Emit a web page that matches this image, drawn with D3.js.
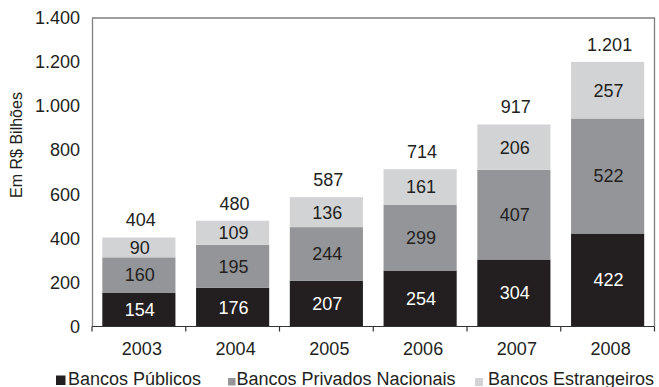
<!DOCTYPE html>
<html>
<head>
<meta charset="utf-8">
<script src="https://cdnjs.cloudflare.com/ajax/libs/d3/7.8.5/d3.min.js"></script>
<style>
  html, body { margin: 0; padding: 0; background: #fff; }
  svg { display: block; font-family: "Liberation Sans", Arial, sans-serif; }
</style>
</head>
<body>
<svg id="chart" width="659" height="387"></svg>
<script>
// Ativos dos bancos por origem de capital (R$ bilhões)
const years = ["2003", "2004", "2005", "2006", "2007", "2008"];
const publicos = [154, 176, 207, 254, 304, 422];
const privadosNacionais = [160, 195, 244, 299, 407, 522];
const estrangeiros = [90, 109, 136, 161, 206, 257];
const totais = [404, 480, 587, 714, 917, 1201];
const yTicks = [0, 200, 400, 600, 800, 1000, 1200, 1400];
const seriesNames = ["Bancos Públicos", "Bancos Privados Nacionais", "Bancos Estrangeiros"];
const seriesColors = ["#231f20", "#939598", "#d1d3d4"];
const labelColors = ["#ffffff", "#231f20", "#231f20"];

const fmt = d3.formatLocale({ decimal: ",", thousands: ".", grouping: [3], currency: ["R$", ""] }).format(",d");

const svg = d3.select("#chart");
const m = { left: 92, top: 18, right: 654.5, bottom: 326.5 };

const x = d3.scaleBand().domain(years).range([m.left, m.right]).paddingInner(0).paddingOuter(0);
const y = d3.scaleLinear().domain([0, 1400]).range([m.bottom, m.top]);
const barW = x.bandwidth() * 0.78;

const rows = years.map((yr, i) => ({
  year: yr,
  publicos: publicos[i],
  privados: privadosNacionais[i],
  estrangeiros: estrangeiros[i],
  total: totais[i]
}));
const keys = ["publicos", "privados", "estrangeiros"];
const stacked = d3.stack().keys(keys)(rows);

// frame (top and right)
svg.append("path")
  .attr("d", `M${m.left},${m.top}H${m.right}V${m.bottom}`)
  .attr("fill", "none").attr("stroke", "#7f7f7f").attr("stroke-width", 1.3);

// stacked bars
stacked.forEach((layer, si) => {
  const g = svg.append("g");
  g.selectAll("rect").data(layer).join("rect")
    .attr("x", d => x(d.data.year) + (x.bandwidth() - barW) / 2)
    .attr("width", barW)
    .attr("y", d => y(d[1]))
    .attr("height", d => y(d[0]) - y(d[1]))
    .attr("fill", seriesColors[si]);
  g.selectAll("text").data(layer).join("text")
    .attr("x", d => x(d.data.year) + x.bandwidth() / 2 + 1)
    .attr("y", d => (y(d[0]) + y(d[1])) / 2)
    .attr("dy", "0.36em")
    .attr("text-anchor", "middle")
    .attr("font-size", 18)
    .attr("fill", labelColors[si])
    .text(d => d[1] - d[0]);
});

// totals above bars
svg.append("g").selectAll("text").data(rows).join("text")
  .attr("x", d => x(d.year) + x.bandwidth() / 2 + 2)
  .attr("y", d => y(d.total) - 11)
  .attr("text-anchor", "middle")
  .attr("font-size", 18)
  .attr("fill", "#231f20")
  .text(d => fmt(d.total));

// y axis
const yAxis = svg.append("g")
  .attr("transform", `translate(${m.left},0)`)
  .call(d3.axisLeft(y).tickValues(yTicks).tickSize(0).tickPadding(12).tickFormat(fmt));
yAxis.select(".domain").attr("stroke", "#7f7f7f").attr("stroke-width", 1.3);
yAxis.selectAll("text").attr("font-size", 18).attr("fill", "#231f20").attr("font-family", null);

// x axis with boundary ticks
const xAxis = svg.append("g").attr("transform", `translate(0,${m.bottom})`);
xAxis.append("line")
  .attr("x1", m.left).attr("x2", m.right)
  .attr("stroke", "#333").attr("stroke-width", 1.2);
xAxis.selectAll("line.tick").data(years.concat(["end"])).join("line")
  .attr("class", "tick")
  .attr("x1", (d, i) => m.left + i * x.step())
  .attr("x2", (d, i) => m.left + i * x.step())
  .attr("y1", 0).attr("y2", 5)
  .attr("stroke", "#333").attr("stroke-width", 1.2);
xAxis.selectAll("text").data(years).join("text")
  .attr("x", d => x(d) + x.bandwidth() / 2 + 3)
  .attr("y", 28.5)
  .attr("text-anchor", "middle")
  .attr("font-size", 18)
  .attr("fill", "#231f20")
  .text(d => d);

// y axis title
svg.append("text")
  .attr("transform", "translate(22,145) rotate(-90)")
  .attr("text-anchor", "middle")
  .attr("font-size", 16)
  .attr("fill", "#231f20")
  .text("Em R$ Bilhões");

// legend
const legend = [
  { sq: [56, 375.5, 9.5], tx: 68 },
  { sq: [228, 378, 7.5], tx: 236.5 },
  { sq: [475, 378, 8], tx: 488 }
];
legend.forEach((l, i) => {
  svg.append("rect")
    .attr("x", l.sq[0]).attr("y", l.sq[1])
    .attr("width", l.sq[2]).attr("height", l.sq[2])
    .attr("fill", seriesColors[i]);
  svg.append("text")
    .attr("x", l.tx).attr("y", 385)
    .attr("font-size", 18)
    .attr("fill", "#231f20")
    .text(seriesNames[i]);
});
</script>
</body>
</html>
